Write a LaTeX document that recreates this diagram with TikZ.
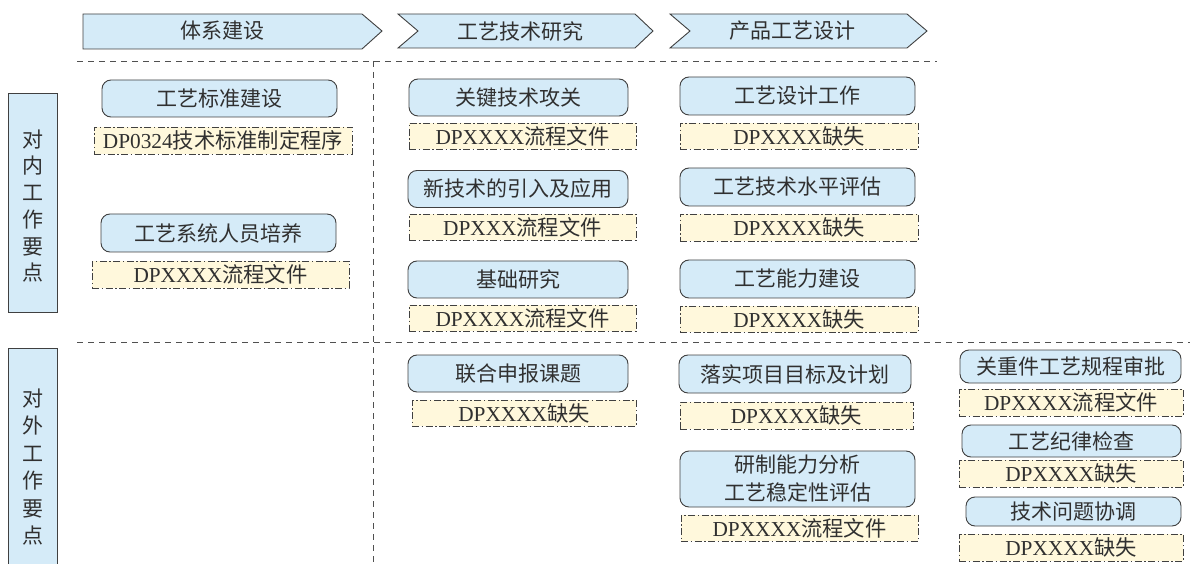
\documentclass[tikz,border=0pt]{standalone}
\usepackage{fontspec}
\setmainfont{Liberation Serif}
\newfontfamily\cjk{Noto Sans CJK SC}
\newfontfamily\lat{Liberation Serif}
\newcommand\latn[1]{{\lat #1}}
\definecolor{blueF}{HTML}{D5EBF8}
\definecolor{yelF}{HTML}{FFF8DC}
\definecolor{bord}{HTML}{404040}
\definecolor{txt}{HTML}{303030}
\definecolor{dashc}{HTML}{505050}
\tikzset{
  base/.style={font=\cjk\fontsize{21}{28}\selectfont, text=txt, inner sep=0pt, align=center},
  task/.style={base, draw=bord, fill=blueF, line width=0.9pt, rounded corners=9pt},
  doc/.style={base, font=\cjk\fontsize{21.3}{28}\selectfont, draw=bord, fill=yelF, line width=0.9pt, dash pattern=on 7pt off 2.5pt on 1.5pt off 2.5pt},
  sect/.style={draw=dashc, line width=0.9pt, dash pattern=on 6pt off 5pt},
  phase/.style={draw=bord, fill=blueF, line width=0.9pt},
  side/.style={draw=bord, fill=blueF, line width=0.9pt},
}
\begin{document}
\begin{tikzpicture}[x=1pt,y=-1pt]
\useasboundingbox (0,0) rectangle (1192,564);
% header arrows
\path[phase] (83,14) -- (362,14) -- (382,31) -- (362,49) -- (83,49) -- cycle;
\path[phase] (398,14) -- (635,14) -- (653,31) -- (635,48) -- (398,48) -- (418,31) -- cycle;
\path[phase] (670,14) -- (907,14) -- (927,31) -- (907,48) -- (670,48) -- (690,31) -- cycle;
\node[base] (h1) at (222,31) {体系建设};
\node[base] (h2) at (520,31) {工艺技术研究};
\node[base] (h3) at (792,31) {产品工艺设计};
% section lines
\coordinate (l1a) at (77,61); \coordinate (l1b) at (937,61);
\coordinate (l2a) at (77,342); \coordinate (l2b) at (1190,342);
\coordinate (va) at (373,61); \coordinate (vb) at (373,566);
\draw[sect] (l1a) -- (l1b);
\draw[sect] (l2a) -- (l2b);
\draw[sect] (va) -- (vb);
% side labels
\path[side] (8,93) rectangle (57,312);
\node[base, font=\cjk\fontsize{21}{26.7}\selectfont] (s1) at (32.5,206) {对\\内\\工\\作\\要\\点};
\path[fill=blueF] (8,568) -- (8,348) -- (57,348) -- (57,568) -- cycle;
\draw[bord, line width=0.9pt] (8,568) -- (8,348) -- (57,348) -- (57,568);
\node[base, font=\cjk\fontsize{21}{27.5}\selectfont] (s2) at (32.5,467) {对\\外\\工\\作\\要\\点};
% column 1
\node[task, minimum width=235pt, minimum height=37pt] (a1) at (219.5,98.5) {工艺标准建设};
\node[doc, minimum width=258pt, minimum height=27pt] (a1d) at (223,140.5) {\latn{DP0324}技术标准制定程序};
\node[task, minimum width=235pt, minimum height=38pt] (a2) at (218.5,233) {工艺系统人员培养};
\node[doc, minimum width=257pt, minimum height=27pt] (a2d) at (220.5,274.5) {\latn{DPXXXX}流程文件};
% column 2
\node[task, minimum width=219pt, minimum height=37pt] (b1) at (518.5,97.5) {关键技术攻关};
\node[doc, minimum width=227pt, minimum height=26pt] (b1d) at (522.5,136) {\latn{DPXXXX}流程文件};
\node[task, minimum width=220pt, minimum height=37pt] (b2) at (518,189) {新技术的引入及应用};
\node[doc, minimum width=227pt, minimum height=26pt] (b2d) at (522.5,227.5) {\latn{DPXXX}流程文件};
\node[task, minimum width=220pt, minimum height=37pt] (b3) at (518,279.5) {基础研究};
\node[doc, minimum width=227pt, minimum height=26pt] (b3d) at (522.5,318) {\latn{DPXXXX}流程文件};
\node[task, minimum width=220pt, minimum height=37pt] (b4) at (518,373.5) {联合申报课题};
\node[doc, minimum width=224pt, minimum height=26pt] (b4d) at (524,413) {\latn{DPXXXX}缺失};
% column 3
\node[task, minimum width=235pt, minimum height=38pt] (c1) at (797.5,96) {工艺设计工作};
\node[doc, minimum width=238pt, minimum height=26pt] (c1d) at (799,136) {\latn{DPXXXX}缺失};
\node[task, minimum width=235pt, minimum height=38pt] (c2) at (797.5,187) {工艺技术水平评估};
\node[doc, minimum width=238pt, minimum height=27pt] (c2d) at (799,227.5) {\latn{DPXXXX}缺失};
\node[task, minimum width=235pt, minimum height=38pt] (c3) at (797.5,279) {工艺能力建设};
\node[doc, minimum width=238pt, minimum height=26pt] (c3d) at (799,319) {\latn{DPXXXX}缺失};
\node[task, minimum width=232pt, minimum height=38pt] (c4) at (795,374) {落实项目目标及计划};
\node[doc, minimum width=233pt, minimum height=27pt] (c4d) at (796.5,415.5) {\latn{DPXXXX}缺失};
\node[task, minimum width=235pt, minimum height=56pt] (c5) at (797.5,479) {研制能力分析\\工艺稳定性评估};
\node[doc, minimum width=237pt, minimum height=26pt] (c5d) at (799.5,528) {\latn{DPXXXX}流程文件};
% column 4
\node[task, minimum width=221pt, minimum height=33pt] (d1) at (1070.5,366.5) {关重件工艺规程审批};
\node[doc, minimum width=224pt, minimum height=27pt] (d1d) at (1071,402.5) {\latn{DPXXXX}流程文件};
\node[task, minimum width=219pt, minimum height=32pt] (d2) at (1071.5,441) {工艺纪律检查};
\node[doc, minimum width=224pt, minimum height=27pt] (d2d) at (1071,473.5) {\latn{DPXXXX}缺失};
\node[task, minimum width=215pt, minimum height=29pt] (d3) at (1073.5,511.5) {技术问题协调};
\node[doc, minimum width=224pt, minimum height=27pt] (d3d) at (1071,547.5) {\latn{DPXXXX}缺失};
\end{tikzpicture}
\end{document}
